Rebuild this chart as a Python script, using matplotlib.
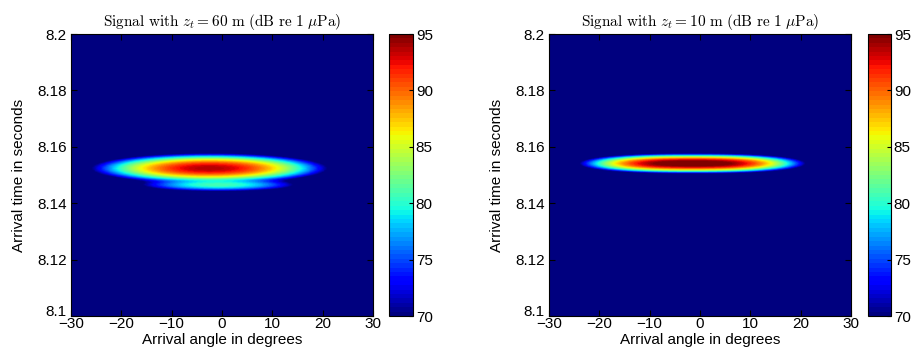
import numpy as np
import matplotlib
matplotlib.use("Agg")
import matplotlib.pyplot as plt
from matplotlib.transforms import ScaledTranslation

plt.rcParams['font.family'] = ['Liberation Sans', 'DejaVu Sans']
plt.rcParams['mathtext.fontset'] = 'cm'

# axes ranges
angle_range = [-30, 30]
time_range = [8.1, 8.2]
clim = [70, 95]
x_ticks = [-30, -20, -10, 0, 10, 20, 30]
y_ticks = [8.1, 8.12, 8.14, 8.16, 8.18, 8.2]
y_ticklabels = ['8.1', '8.12', '8.14', '8.16', '8.18', '8.2']
cbar_ticks = [70, 75, 80, 85, 90, 95]

# arrival blobs: (peak dB, centre angle deg, centre time s,
#                 angle spread deg, time spread s, angle shape exponent)
blobs_60m = [
    (93.8, -2.5, 8.1524, 7.1, 0.00160, 2.0),
    (80.8, -0.7, 8.1465, 6.7, 0.00100, 2.0),
]
blobs_10m = [
    (96.5, -1.5, 8.1541, 8.3, 0.00102, 2.5),
]
titles = [r'$\mathrm{Signal\ with\ }z_t=60\mathrm{\ m\ (dB\ re\ 1\ }\mu\mathrm{Pa)}$',
          r'$\mathrm{Signal\ with\ }z_t=10\mathrm{\ m\ (dB\ re\ 1\ }\mu\mathrm{Pa)}$']


def make_field(blobs, ang, t):
    A, T = np.meshgrid(ang, t)
    inten = np.full(A.shape, 10 ** (50.0 / 10))
    for peak, a0, t0, sa, st, p in blobs:
        inten += 10 ** (peak / 10) * np.exp(-0.5 * (np.abs(A - a0) / sa) ** p
                                            - 0.5 * ((T - t0) / st) ** 2)
    return 10 * np.log10(inten)


ang = np.linspace(angle_range[0], angle_range[1], 241)
t = np.linspace(time_range[0], time_range[1], 401)
cmap = plt.get_cmap('jet', 64)

fig = plt.figure(figsize=(9.17, 3.6), dpi=100)
W, H = 917.0, 360.0
ax_pos = [(71, 34, 373, 316), (549, 34, 851, 316)]
cb_pos = [(389, 34, 413, 316), (868, 34, 891, 316)]

for i, blobs in enumerate([blobs_60m, blobs_10m]):
    x0, y0, x1, y1 = ax_pos[i]
    ax = fig.add_axes([x0 / W, 1 - y1 / H, (x1 - x0) / W, (y1 - y0) / H])
    z = make_field(blobs, ang, t)
    im = ax.imshow(z, origin='lower', aspect='auto', cmap=cmap,
                   extent=[angle_range[0], angle_range[1], time_range[0], time_range[1]],
                   vmin=clim[0], vmax=clim[1], interpolation='bilinear')
    ax.set_xticks(x_ticks)
    ax.set_yticks(y_ticks)
    ax.set_xticklabels([str(v).replace('-', '\u2212') for v in x_ticks])
    ax.set_yticklabels(y_ticklabels)
    ax.tick_params(direction='in', top=True, right=True, labelsize=11, length=4)
    ax.tick_params(axis='x', pad=1)
    ax.tick_params(axis='y', pad=3)
    # lift the bottom y label like the original
    lbl = ax.get_yticklabels()[0]
    lbl.set_transform(lbl.get_transform() + ScaledTranslation(0, 0.06, fig.dpi_scale_trans))
    ax.set_xlabel('Arrival angle in degrees', fontsize=11, labelpad=1)
    ax.set_ylabel('Arrival time in seconds', fontsize=11, labelpad=8)
    ax.set_title(titles[i], fontsize=11, pad=6)

    c0, cy0, c1, cy1 = cb_pos[i]
    cax = fig.add_axes([c0 / W, 1 - cy1 / H, (c1 - c0) / W, (cy1 - cy0) / H])
    cb = fig.colorbar(im, cax=cax, ticks=cbar_ticks)
    cb.ax.tick_params(direction='in', labelsize=11, length=3, pad=2)
    cb.outline.set_linewidth(0.8)

fig.savefig('out.png', dpi=100)
